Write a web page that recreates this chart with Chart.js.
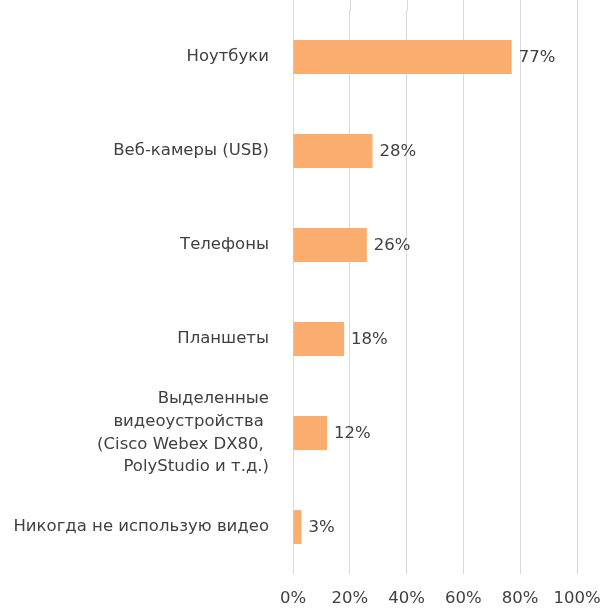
<!DOCTYPE html>
<html>
<head>
<meta charset="utf-8">
<script src="https://cdn.jsdelivr.net/npm/chart.js@4"></script>
<style>
html,body{margin:0;padding:0;background:#fff;}
#wrap{width:608px;height:609px;}
</style>
</head>
<body>
<div id="wrap"><canvas id="c" width="608" height="609"></canvas></div>
<script>
const categories = [
  "Ноутбуки",
  "Веб-камеры (USB)",
  "Телефоны",
  "Планшеты",
  ["Выделенные", "видеоустройства ", "(Cisco Webex DX80, ", "PolyStudio и т.д.)"],
  "Никогда не использую видео"
];
const values = [77, 28, 26, 18, 12, 3];
const xTicks = [0, 20, 40, 60, 80, 100];

const FONT = "'DejaVu Sans', sans-serif";
const TEXT = "#404040";
const GRID = "#D9D9D9";

const valueLabels = {
  id: "valueLabels",
  afterDraw(chart) {
    // extend vertical gridlines up to the top edge of the canvas
    const ctx = chart.ctx;
    const xs = chart.scales.x;
    ctx.save();
    ctx.strokeStyle = GRID;
    ctx.lineWidth = 1;
    xTicks.forEach(v => {
      const px = Math.round(xs.getPixelForValue(v)) + 0.5;
      ctx.beginPath();
      ctx.moveTo(px, 0);
      ctx.lineTo(px, chart.chartArea.top + 1);
      ctx.stroke();
    });
    ctx.restore();
  },
  afterDatasetsDraw(chart) {
    const ctx = chart.ctx;
    const meta = chart.getDatasetMeta(0);
    ctx.save();
    ctx.font = "16.5px " + FONT;
    ctx.fillStyle = TEXT;
    ctx.textAlign = "left";
    ctx.textBaseline = "middle";
    meta.data.forEach((bar, i) => {
      ctx.fillText(values[i] + "%", bar.x + 7, bar.y + 1);
    });
    ctx.restore();
  }
};

new Chart(document.getElementById("c"), {
  type: "bar",
  data: {
    labels: categories,
    datasets: [{
      data: values,
      backgroundColor: "#FAAD6E",
      borderWidth: 0,
      barPercentage: 0.72,
      categoryPercentage: 0.5
    }]
  },
  options: {
    indexAxis: "y",
    responsive: false,
    animation: false,
    layout: { padding: { top: 10, right: 31, bottom: 0, left: 0 } },
    plugins: { legend: { display: false }, tooltip: { enabled: false } },
    scales: {
      x: {
        min: 0, max: 100,
        afterBuildTicks(scale) { scale.ticks = xTicks.map(v => ({ value: v })); },
        afterFit(scale) { scale.height = 35; scale.paddingLeft = 0; scale.paddingRight = 0; },
        grid: { color: GRID, lineWidth: 1, drawTicks: true, tickLength: 0 },
        border: { display: false },
        ticks: {
          padding: 15,
          color: TEXT,
          font: { family: FONT, size: 16.5 },
          callback: v => v + "%"
        }
      },
      y: {
        grid: { display: false },
        border: { display: false },
        afterFit(scale) { scale.width = 293; scale.paddingTop = 0; scale.paddingBottom = 0; },
        ticks: {
          autoSkip: false,
          padding: 16,
          color: TEXT,
          font: { family: FONT, size: 16.5, lineHeight: 1.37 }
        }
      }
    }
  },
  plugins: [valueLabels]
});
</script>
</body>
</html>
